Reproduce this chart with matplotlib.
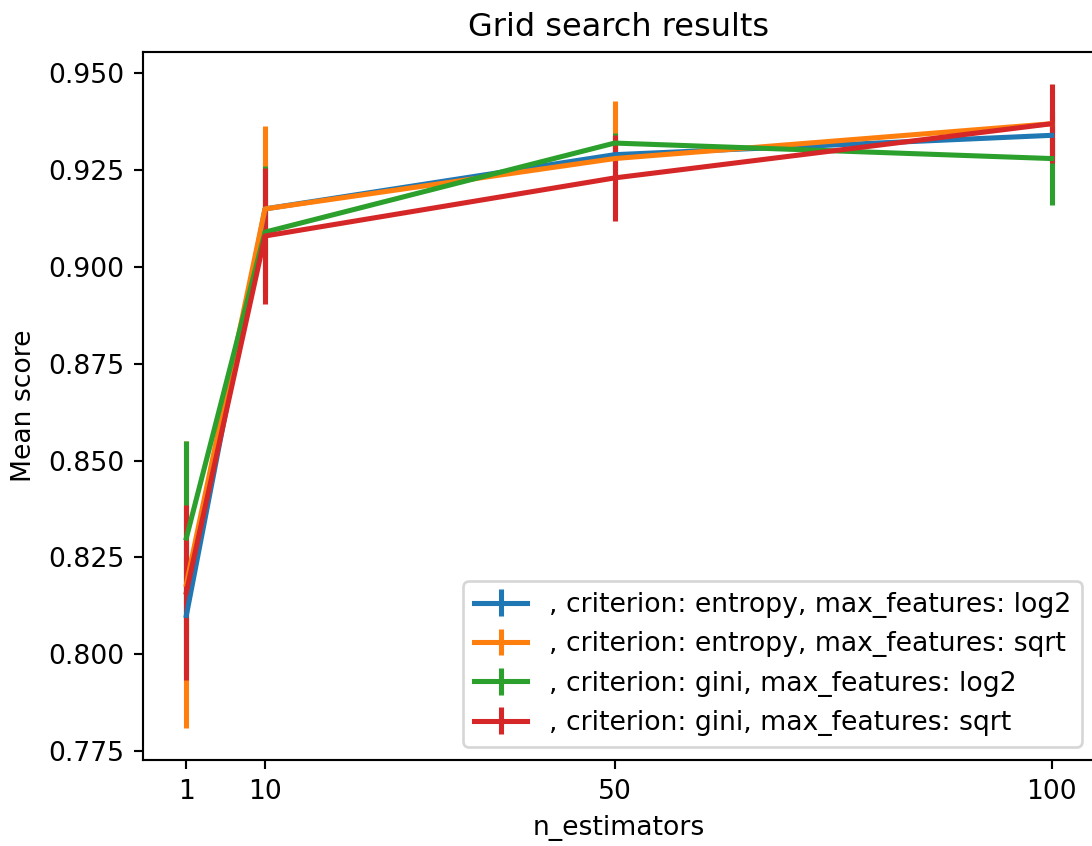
import numpy as np
import matplotlib
matplotlib.use("Agg")
import matplotlib.pyplot as plt

# grid search summary: mean test score and std per parameter combination
n_estimators = [1, 10, 50, 100]

labels = [
    ", criterion: entropy, max_features: log2",
    ", criterion: entropy, max_features: sqrt",
    ", criterion: gini, max_features: log2",
    ", criterion: gini, max_features: sqrt",
]

mean_entropy_log2 = [0.810, 0.915, 0.929, 0.934]
std_entropy_log2 = [0.015, 0.012, 0.004, 0.006]

mean_entropy_sqrt = [0.818, 0.915, 0.928, 0.937]
std_entropy_sqrt = [0.037, 0.0215, 0.0148, 0.009]

mean_gini_log2 = [0.830, 0.909, 0.932, 0.928]
std_gini_log2 = [0.025, 0.017, 0.0025, 0.0121]

mean_gini_sqrt = [0.816, 0.908, 0.923, 0.937]
std_gini_sqrt = [0.0226, 0.0175, 0.0112, 0.0102]

means = [mean_entropy_log2, mean_entropy_sqrt, mean_gini_log2, mean_gini_sqrt]
stds = [std_entropy_log2, std_entropy_sqrt, std_gini_log2, std_gini_sqrt]

DPI = 192
fig = plt.figure(figsize=(1092 / DPI, 846 / DPI), dpi=DPI)
ax = fig.add_axes([0.131, 0.1017, 0.8717, 0.8368])

for m, s, lab in zip(means, stds, labels):
    ax.errorbar(n_estimators, m, yerr=s, label=lab, linewidth=1.9, elinewidth=1.9)

ax.set_xticks(n_estimators)
ax.set_title("Grid search results", fontsize=12)
ax.set_xlabel("n_estimators")
ax.set_ylabel("Mean score")
ax.legend(loc="lower right")

fig.savefig("out.png", dpi=DPI)
